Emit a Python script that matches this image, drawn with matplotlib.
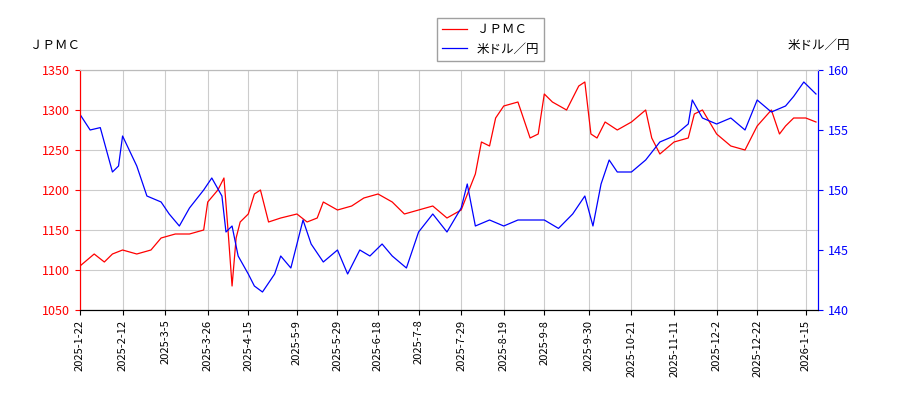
import matplotlib
matplotlib.use("Agg")
import matplotlib.pyplot as plt
import pandas as pd

plt.rcParams["font.family"] = ["Noto Sans CJK JP", "DejaVu Sans"]

# JPMC price (left axis)
jp_dates = ["2025-01-22", "2025-01-29", "2025-02-03", "2025-02-07", "2025-02-12", "2025-02-19",
            "2025-02-26", "2025-03-03", "2025-03-10", "2025-03-17", "2025-03-24", "2025-03-26",
            "2025-03-31", "2025-04-03", "2025-04-05", "2025-04-07", "2025-04-09", "2025-04-11",
            "2025-04-15", "2025-04-18", "2025-04-21", "2025-04-25", "2025-05-01", "2025-05-09",
            "2025-05-14", "2025-05-19", "2025-05-22", "2025-05-29", "2025-06-05", "2025-06-11",
            "2025-06-18", "2025-06-25", "2025-07-01", "2025-07-08", "2025-07-15", "2025-07-22",
            "2025-07-29", "2025-08-05", "2025-08-08", "2025-08-12", "2025-08-15", "2025-08-19",
            "2025-08-26", "2025-09-01", "2025-09-05", "2025-09-08", "2025-09-12", "2025-09-19",
            "2025-09-25", "2025-09-28", "2025-10-01", "2025-10-04", "2025-10-08", "2025-10-14",
            "2025-10-21", "2025-10-28", "2025-10-31", "2025-11-04", "2025-11-11", "2025-11-18",
            "2025-11-21", "2025-11-25", "2025-12-02", "2025-12-09", "2025-12-16", "2025-12-22",
            "2025-12-29", "2026-01-02", "2026-01-05", "2026-01-09", "2026-01-15", "2026-01-20"]
jp_vals = [1105, 1120, 1110, 1120, 1125, 1120, 1125, 1140, 1145, 1145, 1150, 1185,
           1200, 1215, 1150, 1080, 1140, 1160, 1170, 1195, 1200, 1160, 1165, 1170,
           1160, 1165, 1185, 1175, 1180, 1190, 1195, 1185, 1170, 1175, 1180, 1165,
           1175, 1220, 1260, 1255, 1290, 1305, 1310, 1265, 1270, 1320, 1310, 1300,
           1330, 1335, 1270, 1265, 1285, 1275, 1285, 1300, 1265, 1245, 1260, 1265,
           1295, 1300, 1270, 1255, 1250, 1280, 1300, 1270, 1280, 1290, 1290, 1285]

# USD/JPY (right axis)
fx_dates = ["2025-01-22", "2025-01-27", "2025-02-01", "2025-02-07", "2025-02-10", "2025-02-12",
            "2025-02-19", "2025-02-24", "2025-03-03", "2025-03-07", "2025-03-12", "2025-03-17",
            "2025-03-24", "2025-03-28", "2025-04-02", "2025-04-04", "2025-04-07", "2025-04-10",
            "2025-04-15", "2025-04-18", "2025-04-22", "2025-04-28", "2025-05-01", "2025-05-06",
            "2025-05-12", "2025-05-16", "2025-05-22", "2025-05-29", "2025-06-03", "2025-06-09",
            "2025-06-14", "2025-06-20", "2025-06-25", "2025-07-02", "2025-07-08", "2025-07-15",
            "2025-07-22", "2025-07-29", "2025-08-01", "2025-08-05", "2025-08-12", "2025-08-19",
            "2025-08-26", "2025-09-01", "2025-09-08", "2025-09-15", "2025-09-22", "2025-09-28",
            "2025-10-02", "2025-10-06", "2025-10-10", "2025-10-14", "2025-10-21", "2025-10-28",
            "2025-11-04", "2025-11-11", "2025-11-18", "2025-11-20", "2025-11-25", "2025-12-02",
            "2025-12-09", "2025-12-16", "2025-12-22", "2025-12-29", "2026-01-05", "2026-01-09",
            "2026-01-14", "2026-01-20"]
fx_vals = [156.3, 155.0, 155.2, 151.5, 152.0, 154.5, 152.0, 149.5, 149.0, 148.0, 147.0, 148.5,
           150.0, 151.0, 149.5, 146.5, 147.0, 144.5, 143.0, 142.0, 141.5, 143.0, 144.5, 143.5,
           147.5, 145.5, 144.0, 145.0, 143.0, 145.0, 144.5, 145.5, 144.5, 143.5, 146.5, 148.0,
           146.5, 148.5, 150.5, 147.0, 147.5, 147.0, 147.5, 147.5, 147.5, 146.8, 148.0, 149.5,
           147.0, 150.5, 152.5, 151.5, 151.5, 152.5, 154.0, 154.5, 155.5, 157.5, 156.0, 155.5,
           156.0, 155.0, 157.5, 156.5, 157.0, 157.8, 159.0, 158.0]

tick_labels = ["2025-1-22", "2025-2-12", "2025-3-5", "2025-3-26", "2025-4-15", "2025-5-9",
               "2025-5-29", "2025-6-18", "2025-7-8", "2025-7-29", "2025-8-19", "2025-9-8",
               "2025-9-30", "2025-10-21", "2025-11-11", "2025-12-2", "2025-12-22", "2026-1-15"]

fig = plt.figure(figsize=(9, 4), dpi=100)
ax = fig.add_axes([80 / 900, 90 / 400, 738 / 900, 240 / 400])
ax2 = ax.twinx()

l1, = ax.plot(pd.to_datetime(jp_dates), jp_vals, color="red", lw=0.9, label="ＪＰＭＣ")
l2, = ax2.plot(pd.to_datetime(fx_dates), fx_vals, color="blue", lw=0.9, label="米ドル／円")

ax.set_xlim(pd.Timestamp("2025-01-22"), pd.Timestamp("2026-01-21"))
ax.set_ylim(1050, 1350)
ax2.set_ylim(140, 160)
ax.set_yticks(range(1050, 1351, 50))
ax2.set_yticks(range(140, 161, 5))
ax.set_xticks(pd.to_datetime(tick_labels))
ax.set_xticklabels(tick_labels, rotation=90, fontsize=8)
ax.tick_params(axis="y", colors="red", labelsize=9)
ax2.tick_params(axis="y", colors="blue", labelsize=9)
ax.grid(color="#cccccc", lw=0.8)
for a in (ax, ax2):
    a.spines["left"].set_color("red")
    a.spines["right"].set_color("blue")
    a.spines["top"].set_color("#bbbbbb")

fig.text(30 / 900, 1 - 45 / 400, "ＪＰＭＣ", fontsize=9, va="center")
fig.text(850 / 900, 1 - 45 / 400, "米ドル／円", fontsize=9, va="center", ha="right")
fig.legend(handles=[l1, l2], loc="upper center", bbox_to_anchor=(0.545, 0.97),
           fontsize=9, fancybox=False, edgecolor="#888888")

fig.savefig("out.png")
